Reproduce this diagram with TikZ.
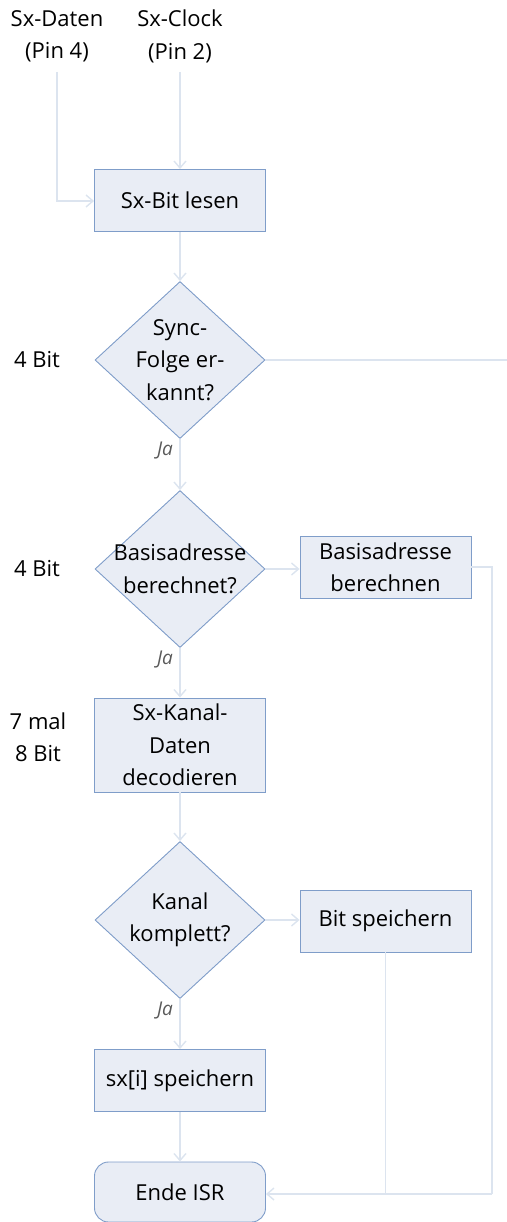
\documentclass[tikz,border=0pt]{standalone}
\usepackage{fontspec}
\setmainfont{Open Sans}
\usetikzlibrary{shapes.geometric,arrows.meta}
\definecolor{boxfill}{RGB}{233,237,245}
\definecolor{boxline}{RGB}{127,157,201}
\definecolor{conn}{RGB}{220,228,239}
\definecolor{jagray}{RGB}{90,90,90}
\tikzset{
  base/.style={font=\fontsize{22}{32.5}\selectfont},
  procbox/.style={base, draw=boxline, fill=boxfill, line width=0.9pt, minimum width=171pt, minimum height=62pt, inner sep=0pt, align=center},
  sidebox/.style={procbox, minimum width=171pt, minimum height=62pt},
  dia/.style={draw=boxline, fill=boxfill, line width=0.9pt, shape=diamond, minimum width=170pt, minimum height=157pt, inner sep=0pt},
  dtext/.style={base, align=center, inner sep=0pt},
  endbox/.style={procbox, rounded corners=14pt, minimum height=60pt},
  plain/.style={base, align=center, inner sep=0pt},
  ja/.style={font=\fontsize{19}{22}\selectfont\itshape, text=jagray, inner sep=0pt},
  conn/.style={draw=conn, line width=1.8pt},
  arr/.style={conn, -{Straight Barb[length=7pt,width=12pt,line width=1.4pt]}},
}
\begin{document}
\begin{tikzpicture}[x=1pt,y=-1pt]
\useasboundingbox (0,0) rectangle (506,1222);
% top labels
\node[plain] (daten) at (57,36.5) {Sx-Daten\\(Pin 4)};
\node[plain] (clock) at (180,36.5) {Sx-Clock\\(Pin 2)};
\coordinate (dstart) at (57,72);
\coordinate (cstart) at (180,72);
\coordinate (dcorner) at (57,201);
% boxes
\node[procbox] (read) at (180,200.5) {Sx-Bit lesen};
\node[dia, label={[dtext]center:Sync-\\Folge er-\\kannt?}] (d1) at (180,360) {};
\node[dia, label={[dtext]center:Basisadresse\\berechnet?}] (d2) at (180,569) {};
\node[sidebox] (calc) at (385.5,567) {Basisadresse\\berechnen};
\node[procbox, minimum height=94pt] (decode) at (180,745) {Sx-Kanal-\\Daten\\decodieren};
\node[dia, label={[dtext]center:Kanal\\komplett?}] (d3) at (180,920) {};
\node[sidebox] (bit) at (385.5,921) {Bit speichern};
\node[procbox] (sx) at (180,1080.5) {sx[i] speichern};
\node[endbox] (ende) at (180,1192) {Ende ISR};
% side labels
\node[plain] (b1) at (37,360) {4 Bit};
\node[plain] (b2) at (37,569) {4 Bit};
\node[plain] (b3) at (38,737) {7 mal\\8 Bit};
\node[ja] (ja1) at (165,451) {Ja};
\node[ja] (ja2) at (165,659) {Ja};
\node[ja] (ja3) at (165,1010) {Ja};
% coordinates for the loop
\coordinate (syncend) at (507,360);
\coordinate (rc1) at (492,567);
\coordinate (rc2) at (492,1194);
\coordinate (bc) at (385.5,1194);
\coordinate (endin) at (ende.east |- rc2);
% connectors
\draw[arr] (dstart) -- (dcorner) -- (read.west |- dcorner);
\draw[arr] (cstart) -- (read.north);
\draw[arr] (read.south) -- (d1.north);
\draw[conn] (d1.east) -- (syncend);
\draw[arr] (d1.south) -- (d2.north);
\draw[arr] (d2.east) -- (calc.west |- d2.east);
\draw[arr] (d2.south) -- (decode.north);
\draw[arr] (decode.south) -- (d3.north);
\draw[arr] (d3.east) -- (bit.west |- d3.east);
\draw[arr] (d3.south) -- (sx.north);
\draw[arr] (sx.south) -- (ende.north);
\draw[conn] (calc.east) -- (rc1) -- (rc2);
\draw[conn] (bit.south) -- (bc);
\draw[arr] (rc2) -- (endin);
\end{tikzpicture}
\end{document}
